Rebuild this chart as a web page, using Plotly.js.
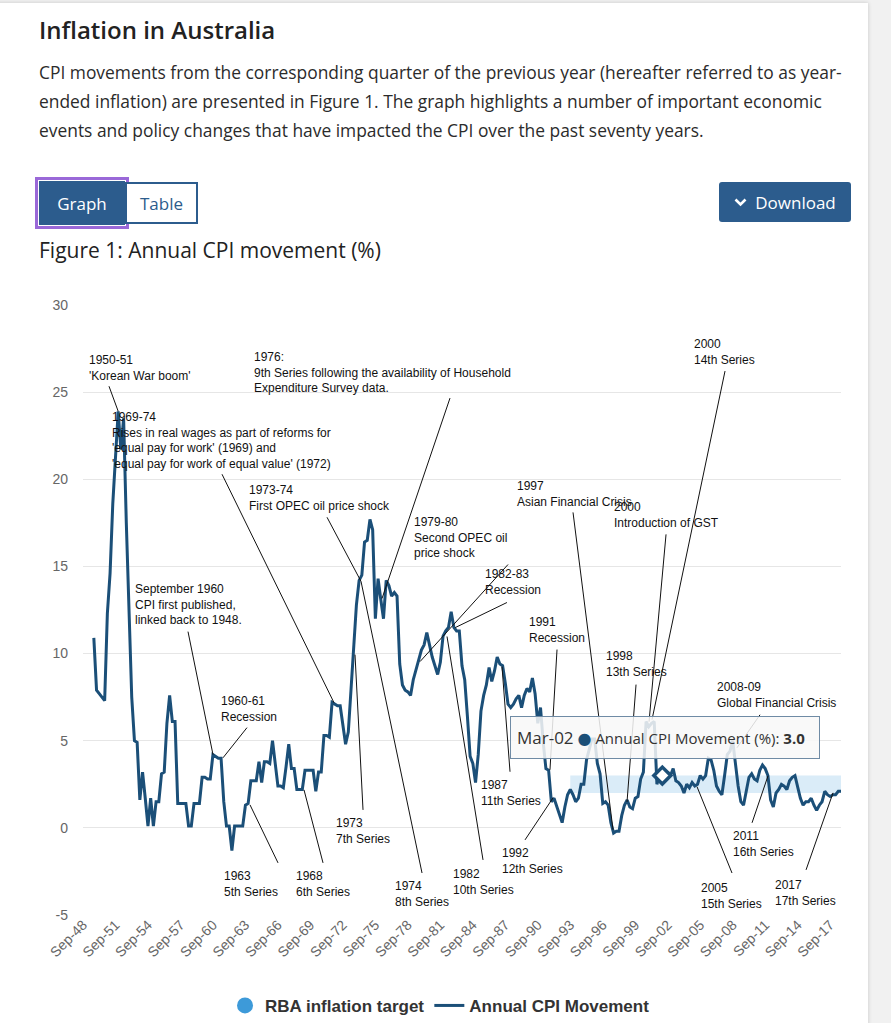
<!DOCTYPE html>
<html>
<head>
<meta charset="utf-8">
<script src="https://cdn.plot.ly/plotly-3.0.1.min.js"></script>
<style>
  html, body { margin: 0; padding: 0; }
  body { width: 891px; height: 1023px; background: #f1f1f1; overflow: hidden; position: relative; font-family: "Open Sans", "Noto Sans", sans-serif; }
  #card { position: absolute; left: -10px; top: 3px; width: 878px; height: 1030px; background: #fff; box-shadow: 0 0 4px rgba(0,0,0,0.18); }
  .abs { position: absolute; white-space: nowrap; }
  #h { left: 39px; top: 13.7px; font-size: 24px; line-height: 32px; font-weight: 600; color: #222; }
  #p { left: 39px; top: 58px; font-size: 17.4px; line-height: 29px; color: #2b2b2b; }
  #ftitle { left: 39px; top: 236px; font-size: 21px; line-height: 28px; color: #222; }
  .btn { position: absolute; box-sizing: border-box; font-size: 17px; display: flex; align-items: center; justify-content: center; }
  #bGraph { left: 39px; top: 181px; width: 86px; height: 44px; background: #2c5c8d; color: #fff; outline: 3px solid #9a68d8; outline-offset: 1px; }
  #bTable { left: 125px; top: 182px; width: 73px; height: 42px; background: #fff; color: #2c5c8d; border: 2px solid #2c5c8d; }
  #bDown { left: 719px; top: 182px; width: 132px; height: 40px; background: #2c5c8d; color: #fff; border-radius: 3px; }
  #bDown svg { margin-right: 8px; }
  #chart { position: absolute; left: 0; top: 280px; width: 891px; height: 743px; }
</style>
</head>
<body>
<div id="card"></div>
<div id="h" class="abs">Inflation in Australia</div>
<div id="p" class="abs">CPI movements from the corresponding quarter of the previous year (hereafter referred to as year-<br>ended inflation) are presented in Figure 1. The graph highlights a number of important economic<br>events and policy changes that have impacted the CPI over the past seventy years.</div>
<div id="bGraph" class="btn">Graph</div>
<div id="bTable" class="btn">Table</div>
<div id="bDown" class="btn"><svg width="13" height="9" viewBox="0 0 13 9"><path d="M1.5 1.5 L6.5 6.5 L11.5 1.5" stroke="#fff" stroke-width="2.6" fill="none"/></svg>Download</div>
<div id="ftitle" class="abs">Figure 1: Annual CPI movement (%)</div>
<div id="chart"></div>
<script>
// ---------- data ----------
const firstQuarterYear = 1948;          // categories start Sep-48
const quarterMonths = ['Sep', 'Dec', 'Mar', 'Jun'];

// Annual CPI movement (%), quarterly, Sep-48 .. Sep-18
const cpi1948_1958 = [null, null, null, null, 10.9, 7.9, 7.7, 7.5, 7.3, 12.3, 14.6, 18.6, 21.5, 23.9, 21.7, 23.5, 17.5, 12.5, 7.5, 5.0, 4.9, 1.6, 3.2, 1.7, 0.1, 1.7, 0.1, 1.5, 1.5, 3.1, 3.2, 6.0, 7.6, 6.1, 6.1, 1.4, 1.4, 1.4, 1.4, 0.1];
const cpi1958_1968 = [0.1, 1.4, 1.4, 1.4, 2.9, 2.9, 2.8, 2.8, 4.2, 4.1, 4.0, 4.0, 1.5, 0.1, 0.1, -1.3, 0.1, 0.1, 0.1, 0.1, 1.3, 1.4, 2.7, 2.7, 2.7, 3.8, 2.6, 3.8, 3.8, 3.7, 5.0, 3.7, 2.4, 2.4, 2.3, 3.5, 4.8, 3.4, 3.4, 2.2];
const cpi1968_1978 = [2.2, 2.2, 3.3, 3.3, 3.3, 3.3, 2.1, 3.2, 3.2, 5.3, 5.3, 5.2, 7.2, 7.1, 7.0, 7.0, 5.9, 4.8, 5.5, 8.1, 10.4, 12.8, 14.2, 14.5, 16.4, 16.5, 17.7, 17.1, 12.0, 14.3, 13.1, 12.0, 14.2, 13.9, 13.3, 13.5, 13.3, 9.4, 8.2, 7.9];
const cpi1978_1988 = [7.8, 7.6, 8.5, 9.1, 9.6, 10.2, 10.5, 11.2, 10.5, 9.8, 9.3, 8.8, 9.5, 11.0, 11.3, 11.5, 12.4, 11.5, 11.3, 11.3, 9.3, 8.5, 6.4, 4.1, 3.7, 2.6, 4.2, 6.7, 7.6, 8.2, 9.2, 8.4, 9.0, 9.8, 9.4, 9.3, 8.3, 7.1, 6.9, 7.1];
const cpi1988_1998 = [7.4, 7.6, 6.9, 7.6, 8.0, 7.8, 8.6, 7.7, 6.0, 6.9, 4.9, 3.4, 3.3, 1.5, 1.7, 1.2, 0.8, 0.3, 1.2, 1.9, 2.2, 1.9, 1.5, 1.7, 2.5, 2.5, 3.9, 4.5, 5.1, 5.1, 3.7, 3.1, 1.4, 1.5, 1.3, 0.3, -0.3, -0.2, -0.2, 0.7];
const cpi1998_2008 = [1.3, 1.6, 1.2, 1.1, 1.7, 1.8, 2.8, 3.2, 6.1, 5.8, 6.0, 6.1, 2.5, 3.1, 3.0, 2.8, 3.2, 3.0, 3.4, 2.7, 2.6, 2.4, 2.0, 2.5, 2.3, 2.6, 2.4, 2.5, 3.0, 2.8, 3.0, 4.0, 3.9, 3.3, 2.4, 2.1, 1.9, 3.0, 4.2, 4.4];
const cpi2008_2018 = [5.0, 3.7, 2.4, 1.5, 1.3, 2.1, 2.9, 3.1, 2.8, 2.7, 3.3, 3.6, 3.4, 3.0, 1.6, 1.2, 2.0, 2.2, 2.5, 2.4, 2.2, 2.7, 2.9, 3.0, 2.3, 1.7, 1.3, 1.5, 1.5, 1.7, 1.3, 1.0, 1.3, 1.5, 2.1, 1.9, 1.8, 1.9, 1.9, 2.1, 2.1];

const tickLabels = ['Sep-48','Sep-51','Sep-54','Sep-57','Sep-60','Sep-63','Sep-66','Sep-69','Sep-72','Sep-75','Sep-78','Sep-81','Sep-84','Sep-87','Sep-90','Sep-93','Sep-96','Sep-99','Sep-02','Sep-05','Sep-08','Sep-11','Sep-14','Sep-17'];
const yTickValues = [-5, 0, 5, 10, 15, 20, 25, 30];
const yTickText = ['-5', '0', '5', '10', '15', '20', '25', '30'];

const rbaTarget = [2, 3];               // target band (%)
const rbaTargetFrom = 'Sep-93';
const hoverCategory = 'Mar-02';

const cpiSeriesName = 'Annual CPI Movement';
const targetName = 'RBA inflation target';

// ---------- build ----------
const cpiValues = [].concat(cpi1948_1958, cpi1958_1968, cpi1968_1978, cpi1978_1988, cpi1988_1998, cpi1998_2008, cpi2008_2018);
const categories = cpiValues.map((_, i) => {
  const q = i % 4;
  const yr = firstQuarterYear + Math.floor(i / 4) + (q >= 2 ? 1 : 0);
  return quarterMonths[q] + '-' + String(yr % 100).padStart(2, '0');
});
const bandStart = categories.indexOf(rbaTargetFrom);
const bandX = categories.slice(bandStart);
const hoverIdx = categories.indexOf(hoverCategory);
const hoverVal = cpiValues[hoverIdx];

const LINE = '#1b4f78';
const annFont = { family: 'Liberation Sans, Arial, sans-serif', size: 12, color: '#111' };

const traces = [
  { type: 'scatter', mode: 'lines', x: bandX, y: bandX.map(() => rbaTarget[0]), line: { width: 0 }, showlegend: false, hoverinfo: 'skip' },
  { type: 'scatter', mode: 'lines', x: bandX, y: bandX.map(() => rbaTarget[1]), line: { width: 0 }, fill: 'tonexty', fillcolor: 'rgba(61,154,217,0.19)', showlegend: false, hoverinfo: 'skip' },
  { type: 'scatter', mode: 'markers', x: [rbaTargetFrom], y: [null], name: targetName, legendrank: 1, marker: { color: '#3d9ad9', size: 16 }, hoverinfo: 'skip' },
  { type: 'scatter', mode: 'lines', x: categories, y: cpiValues, name: cpiSeriesName, legendrank: 2, line: { color: LINE, width: 3 }, connectgaps: false, cliponaxis: false },
  { type: 'scatter', mode: 'markers', x: [hoverCategory], y: [hoverVal], showlegend: false, marker: { symbol: 'diamond', size: 13, color: '#fff', line: { color: LINE, width: 3.5 } }, cliponaxis: false }
];

// event labels: [text, x(category index), y(value) of label top-left]
const labels = [
  ["1950-51<br>'Korean War boom'", 1.48, 27.38],
  ["1969-74<br>Rises in real wages as part of reforms for<br>'equal pay for work' (1969) and<br>'equal pay for work of equal value' (1972)", 10.09, 24.1],
  ["1976:<br>9th Series following the availability of Household<br>Expenditure Survey data.", 62.55, 27.54],
  ["1973-74<br>First OPEC oil price shock", 60.59, 19.9],
  ["1979-80<br>Second OPEC oil<br>price shock", 121.65, 18.04],
  ["1982-83<br>Recession", 147.77, 15.06],
  ["September 1960<br>CPI first published,<br>linked back to 1948.", 18.47, 14.22],
  ["1960-61<br>Recession", 50.13, 7.81],
  ["1963<br>5th Series", 51.46, -2.25],
  ["1968<br>6th Series", 77.83, -2.25],
  ["1973<br>7th Series", 92.72, 0.77],
  ["1974<br>8th Series", 114.52, -2.82],
  ["1982<br>10th Series", 135.83, -2.13],
  ["1987<br>11th Series", 146.29, 2.97],
  ["1991<br>Recession", 164.13, 12.31],
  ["1992<br>12th Series", 153.93, -0.95],
  ["1997<br>Asian Financial Crisis", 159.48, 20.14],
  ["2000<br>Introduction of GST", 195.53, 18.9],
  ["2000<br>14th Series", 225.08, 28.26],
  ["1998<br>13th Series", 192.35, 10.37],
  ["2008-09<br>Global Financial Crisis", 233.58, 8.58],
  ["2011<br>16th Series", 239.49, 0.05],
  ["2005<br>15th Series", 227.56, -2.92],
  ["2017<br>17th Series", 254.9, -2.77]
];
// leader lines: [x0, y0, x1, y1] in category index / value
const leaders = [
  [9.60, 25.34, 13, 23.9],
  [51.35, 20.29, 92.72, 7.18],
  [135.57, 24.66, 110.45, 13.16],
  [90.14, 17.82, 102.7, 14.14],
  [157.0, 15.11, 124.5, 9.54],
  [156.6, 12.93, 137.5, 11.49],
  [38.79, 11.26, 48.02, 4.2],
  [60.58, 5.75, 51.72, 4.02],
  [72.04, -2.01, 61.69, 1.32],
  [88.66, -2.01, 81.64, 2.18],
  [103.44, 1.03, 100.48, 9.94],
  [125.23, -2.59, 102.7, 14.14],
  [147.77, -1.84, 134.47, 10.98],
  [157.74, 3.22, 154.78, 9.25],
  [175.1, 10.23, 172.5, 3.33],
  [163.28, -0.69, 173.62, 1.72],
  [181.01, 18.1, 195.79, -0.11],
  [215.37, 16.84, 209.09, 6.09],
  [237.16, 26.21, 210.19, 6.21],
  [204.29, 8.22, 200.96, 1.49],
  [250.09, 6.49, 241.6, 4.6],
  [247.14, 0.29, 253.05, 2.99],
  [239.74, -2.59, 226.82, 2.36],
  [267.09, -2.41, 277.06, 2.01]
];

const annotations = labels.map(([t, x, y]) => ({
  text: t, x: x, y: y, xref: 'x', yref: 'y', xanchor: 'left', yanchor: 'top', align: 'left',
  showarrow: false, font: annFont
}));
annotations.push({
  text: '<span style="font-size:17px">' + hoverCategory + '</span> <span style="color:' + LINE + ';font-family:DejaVu Sans;font-size:16px">●</span> Annual CPI Movement (%): <b>' + hoverVal.toFixed(1) + '</b>',
  x: hoverIdx, y: hoverVal, xref: 'x', yref: 'y', xanchor: 'center', yanchor: 'bottom',
  xshift: 2.5, yshift: 17, showarrow: false, align: 'left',
  width: 296, height: 29, valign: 'middle', borderpad: 6,
  bgcolor: 'rgba(248,248,248,0.86)', bordercolor: '#6f8ba5', borderwidth: 1,
  font: { family: 'Open Sans, sans-serif', size: 15, color: '#333' }
});

const shapes = leaders.map(([x0, y0, x1, y1]) => ({
  type: 'line', xref: 'x', yref: 'y', x0, y0, x1, y1, line: { color: '#111', width: 1 }
}));

const layout = {
  width: 891, height: 743, autosize: false,
  margin: { l: 83, r: 50, t: 25, b: 108, autoexpand: false },
  paper_bgcolor: 'rgba(0,0,0,0)', plot_bgcolor: 'rgba(0,0,0,0)',
  showlegend: true,
  hovermode: false,
  xaxis: {
    type: 'category', categoryorder: 'array', categoryarray: categories,
    range: [0, categories.length - 1],
    tickmode: 'array', tickvals: tickLabels, ticktext: tickLabels, tickangle: -45,
    showgrid: false, zeroline: false, showline: false, ticks: '',
    tickfont: { family: 'Liberation Sans, Arial, sans-serif', size: 14, color: '#666' },
    ticklabelstandoff: -2, automargin: false
  },
  yaxis: {
    range: [-5, 30], tickmode: 'array', tickvals: yTickValues, ticktext: yTickText,
    showgrid: true, gridcolor: '#e6e6e6', gridwidth: 1, zeroline: false, showline: false, ticks: '',
    tickfont: { family: 'Liberation Sans, Arial, sans-serif', size: 14, color: '#666' },
    ticklabelstandoff: 14, automargin: false
  },
  legend: {
    orientation: 'h', x: 0.471, xanchor: 'center', y: -0.149, yanchor: 'middle',
    font: { family: 'Liberation Sans, Arial, sans-serif', size: 17, color: '#333', weight: 'bold' },
    itemwidth: 30, bgcolor: 'rgba(0,0,0,0)', traceorder: 'normal'
  },
  annotations: annotations,
  shapes: shapes
};

Plotly.newPlot('chart', traces, layout, { displayModeBar: false, staticPlot: true });
</script>
</body>
</html>
